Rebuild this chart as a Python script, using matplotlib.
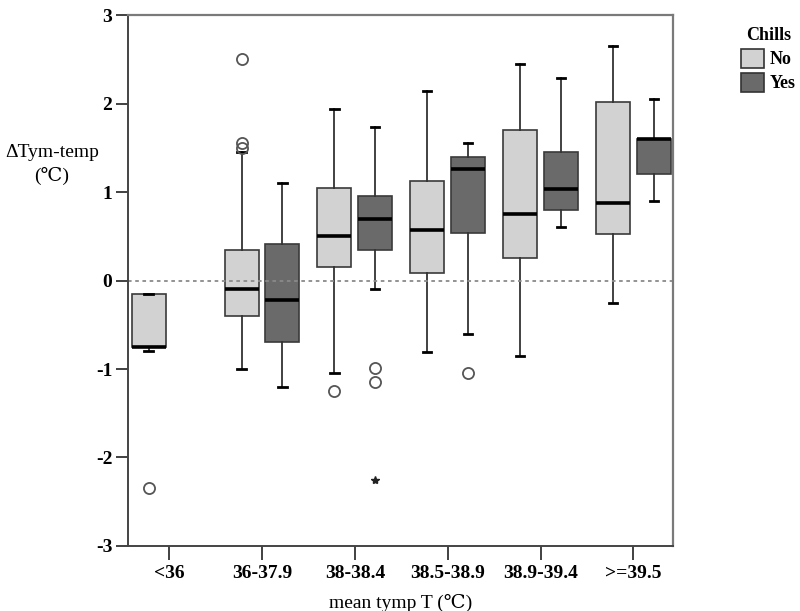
import matplotlib
matplotlib.use("Agg")
import matplotlib.pyplot as plt
from matplotlib.patches import Patch

plt.rcParams['font.family'] = ['Liberation Serif', 'DejaVu Serif']

groups = ["<36", "36-37.9", "38-38.4", "38.5-38.9", "38.9-39.4", ">=39.5"]

# Chills = No
no_whislo = [-0.80, -1.00, -1.05, -0.81, -0.85, -0.25]
no_q1 = [-0.75, -0.40, 0.15, 0.08, 0.25, 0.53]
no_med = [-0.75, -0.10, 0.50, 0.57, 0.75, 0.88]
no_q3 = [-0.15, 0.35, 1.05, 1.12, 1.70, 2.02]
no_whishi = [-0.15, 1.45, 1.94, 2.14, 2.45, 2.65]
no_outliers = [[-2.35], [1.50, 1.55, 2.50], [-1.25], [], [], []]

# Chills = Yes (no data for <36)
yes_whislo = [None, -1.20, -0.10, -0.60, 0.60, 0.90]
yes_q1 = [None, -0.70, 0.35, 0.54, 0.80, 1.20]
yes_med = [None, -0.22, 0.70, 1.26, 1.03, 1.60]
yes_q3 = [None, 0.41, 0.95, 1.40, 1.45, 1.60]
yes_whishi = [None, 1.10, 1.74, 1.55, 2.29, 2.05]
yes_outliers = [[], [], [-0.99, -1.15], [-1.05], [], []]
yes_extremes = [[], [], [-2.25], [], [], []]

light = "#d2d2d2"
dark = "#6a6a6a"


def make_stats(lo, q1, med, q3, hi, fliers):
    stats = []
    pos = []
    for i in range(len(groups)):
        if med[i] is None:
            continue
        stats.append(dict(whislo=lo[i], q1=q1[i], med=med[i], q3=q3[i],
                          whishi=hi[i], fliers=fliers[i]))
        pos.append(i)
    return stats, pos


fig = plt.figure(figsize=(8, 6.11), dpi=100)
ax = fig.add_axes([0.1596, 0.1064, 0.6816, 0.869])

ax.axhline(0, color="#8a8a8a", lw=1.3, linestyle=(0, (2, 2)), zorder=2.5)

offset = 0.22
width = 0.366
series = [
    (make_stats(no_whislo, no_q1, no_med, no_q3, no_whishi, no_outliers), -offset, light),
    (make_stats(yes_whislo, yes_q1, yes_med, yes_q3, yes_whishi, yes_outliers), offset, dark),
]
for (stats, pos), off, col in series:
    ax.bxp(stats, positions=[p + off for p in pos], widths=width, capwidths=0.09,
           patch_artist=True, manage_ticks=False,
           boxprops=dict(facecolor=col, edgecolor="#3a3a3a", linewidth=1.2),
           medianprops=dict(color="black", linewidth=2.6),
           whiskerprops=dict(color="#333333", linewidth=1.3),
           capprops=dict(color="black", linewidth=2),
           flierprops=dict(marker="o", markerfacecolor="none", markeredgecolor="#555555",
                           markersize=8, markeredgewidth=1.3))

# extreme values drawn as stars
for i, vals in enumerate(yes_extremes):
    for v in vals:
        ax.plot(i + offset, v, marker="*", color="#222222", markersize=6, zorder=4)

ax.set_xlim(-0.446, 5.425)
ax.set_ylim(-3, 3)
ax.set_xticks(range(len(groups)))
ax.set_xticklabels(groups, fontsize=14, fontweight="bold")
ax.set_yticks(range(-3, 4))
ax.set_yticklabels([str(v) for v in range(-3, 4)], fontsize=14, fontweight="bold")
ax.tick_params(axis="y", length=9, width=1.3, color="#333333", pad=2)
ax.tick_params(axis="x", length=10, width=1.3, color="#333333", pad=4)

for side in ["left", "bottom"]:
    ax.spines[side].set_color("#444444")
    ax.spines[side].set_linewidth(1.4)
for side in ["top", "right"]:
    ax.spines[side].set_color("#7a7a7a")
    ax.spines[side].set_linewidth(1.6)

ax.set_xlabel("mean tymp T (℃)", fontsize=14, labelpad=8)
fig.text(52 / 800, 1 - 152 / 611, "ΔTym-temp", fontsize=14, ha="center", va="center")
fig.text(52 / 800, 1 - 176 / 611, "(℃)", fontsize=14, ha="center", va="center")

handles = [Patch(facecolor=light, edgecolor="#333333", linewidth=1.2, label="No"),
           Patch(facecolor=dark, edgecolor="#333333", linewidth=1.2, label="Yes")]
fig.legend(handles=handles, title="Chills", loc="upper left",
           bbox_to_anchor=(734 / 800, 1 - 20 / 611), frameon=False,
           prop=dict(weight="bold", size=13),
           title_fontproperties=dict(weight="bold", size=13),
           handlelength=1.25, handleheight=1.25, labelspacing=0.25, handletextpad=0.3,
           borderaxespad=0, borderpad=0.4)

fig.savefig("out.png", dpi=100)
